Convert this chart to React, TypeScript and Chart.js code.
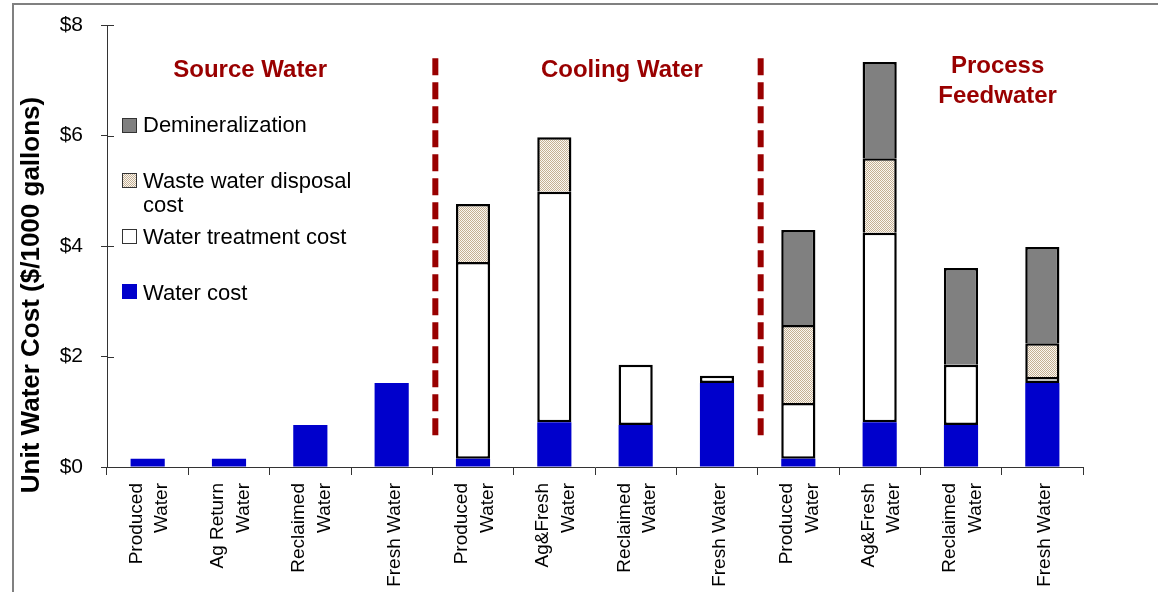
import React, { useEffect, useRef } from "react";
import { Chart, registerables } from "chart.js";

Chart.register(...registerables);

const categories: string[][] = [
  ["Produced", "Water"],
  ["Ag Return", "Water"],
  ["Reclaimed", "Water"],
  ["Fresh Water"],
  ["Produced", "Water"],
  ["Ag&Fresh", "Water"],
  ["Reclaimed", "Water"],
  ["Fresh Water"],
  ["Produced", "Water"],
  ["Ag&Fresh", "Water"],
  ["Reclaimed", "Water"],
  ["Fresh Water"],
];

const waterCost = [0.15, 0.15, 0.76, 1.52, 0.15, 0.81, 0.76, 1.52, 0.15, 0.81, 0.76, 1.52];
const treatmentCost = [null, null, null, null, 3.56, 4.17, 1.09, 0.13, 1.01, 3.43, 1.09, 0.11];
const wasteDisposalCost = [null, null, null, null, 1.05, 0.99, null, null, 1.41, 1.35, null, 0.61];
const demineralization = [null, null, null, null, null, null, null, null, 1.72, 1.74, 1.75, 1.74];

const yTicks = [0, 2, 4, 6, 8];
const groupTitles = [
  { lines: ["Source Water"], at: 1.26 },
  { lines: ["Cooling Water"], at: 5.83 },
  { lines: ["Process", "Feedwater"], at: 10.45 },
];
const dividers = [3.5, 7.5];
const legendItems = ["Demineralization", "Waste water disposal|cost", "Water treatment cost", "Water cost"];

const FONT = "'Liberation Sans', Arial, Helvetica, sans-serif";
const DARK_RED = "#990000";
const BLUE = "#0000CC";
const GRAY = "#808080";

function makePattern(): CanvasPattern | string {
  const c = document.createElement("canvas");
  c.width = 2;
  c.height = 2;
  const g = c.getContext("2d");
  if (!g) return "#e0d4c4";
  g.fillStyle = "#faf7f2";
  g.fillRect(0, 0, 2, 2);
  g.fillStyle = "#c4af92";
  g.fillRect(0, 0, 1, 1);
  g.fillRect(1, 1, 1, 1);
  const p = g.createPattern(c, "repeat");
  return p || "#e0d4c4";
}

export default function App() {
  const ref = useRef<HTMLCanvasElement | null>(null);

  useEffect(() => {
    if (!ref.current) return;
    const pattern = makePattern();

    const overlay = {
      id: "overlay",
      afterDatasetsDraw(chart: any) {
        const ctx = chart.ctx;
        const x = chart.scales.x;
        const y = chart.scales.y;
        ctx.save();
        ctx.strokeStyle = DARK_RED;
        ctx.lineWidth = 6;
        ctx.setLineDash([17, 7]);
        dividers.forEach((d) => {
          const px = x.getPixelForValue(d) + 3;
          ctx.beginPath();
          ctx.moveTo(px, y.getPixelForValue(7.4));
          ctx.lineTo(px, y.getPixelForValue(0.5));
          ctx.stroke();
        });
        ctx.restore();
      },
      afterDraw(chart: any) {
        const ctx = chart.ctx;
        const x = chart.scales.x;
        const y = chart.scales.y;
        const area = chart.chartArea;
        ctx.save();
        // frame
        ctx.fillStyle = GRAY;
        ctx.fillRect(12, 3, chart.width - 12, 2);
        ctx.fillRect(12, 3, 2, chart.height - 3);

        // inner y ticks
        ctx.strokeStyle = "#333333";
        ctx.lineWidth = 1;
        yTicks.forEach((t) => {
          const py = Math.round(y.getPixelForValue(t)) + 0.5;
          ctx.beginPath();
          ctx.moveTo(area.left, py);
          ctx.lineTo(area.left + 7, py);
          ctx.stroke();
        });

        // x labels
        ctx.fillStyle = "#000000";
        ctx.font = `19px ${FONT}`;
        ctx.textAlign = "right";
        ctx.textBaseline = "alphabetic";
        categories.forEach((lines, i) => {
          const cx = x.getPixelForValue(i);
          ctx.save();
          ctx.translate(cx, area.bottom + 16);
          ctx.rotate(-Math.PI / 2);
          if (lines.length === 1) {
            ctx.fillText(lines[0], 0, 8);
          } else {
            ctx.fillText(lines[0], 0, -6);
            ctx.fillText(lines[1], 0, 19.5);
          }
          ctx.restore();
        });

        // y title
        ctx.save();
        ctx.font = `bold 26px ${FONT}`;
        ctx.textAlign = "center";
        ctx.textBaseline = "middle";
        ctx.translate(32, 295);
        ctx.rotate(-Math.PI / 2);
        ctx.fillText("Unit Water Cost ($/1000 gallons)", 0, 0);
        ctx.restore();

        // group titles
        ctx.fillStyle = DARK_RED;
        ctx.font = `bold 24px ${FONT}`;
        ctx.textAlign = "center";
        groupTitles.forEach((g) => {
          const cx = x.getPixelForValue(g.at);
          if (g.lines.length === 1) {
            ctx.fillText(g.lines[0], cx, 77);
          } else {
            ctx.fillText(g.lines[0], cx, 73);
            ctx.fillText(g.lines[1], cx, 103);
          }
        });

        // legend
        const fills: any[] = [GRAY, pattern, "#ffffff", BLUE];
        const boxTops = [118, 173, 229, 284];
        const baselines = [132, 188, 244, 300];
        ctx.font = `22px ${FONT}`;
        ctx.textAlign = "left";
        legendItems.forEach((label, i) => {
          ctx.fillStyle = fills[i];
          ctx.fillRect(122, boxTops[i], 15, 15);
          if (i < 3) {
            ctx.strokeStyle = "#333333";
            ctx.lineWidth = 1;
            ctx.strokeRect(122.5, boxTops[i] + 0.5, 14, 14);
          }
          ctx.fillStyle = "#000000";
          const parts = label.split("|");
          parts.forEach((p, j) => {
            ctx.fillText(p, 143, baselines[i] + j * 23.5);
          });
        });
        ctx.restore();
      },
    };

    const chart = new Chart(ref.current, {
      type: "bar",
      data: {
        labels: categories.map((c) => c.join(" ")),
        datasets: [
          {
            label: "Water cost",
            data: waterCost,
            backgroundColor: BLUE,
            borderWidth: 0,
          },
          {
            label: "Water treatment cost",
            data: treatmentCost as any,
            backgroundColor: "#ffffff",
            borderColor: "#000000",
            borderWidth: 2.5,
            borderSkipped: false,
          },
          {
            label: "Waste water disposal cost",
            data: wasteDisposalCost as any,
            backgroundColor: pattern as any,
            borderColor: "#000000",
            borderWidth: 2.5,
            borderSkipped: "bottom",
          },
          {
            label: "Demineralization",
            data: demineralization as any,
            backgroundColor: GRAY,
            borderColor: "#000000",
            borderWidth: 2.5,
            borderSkipped: "bottom",
          },
        ],
      },
      options: {
        responsive: false,
        animation: false,
        layout: { padding: { left: 0, right: 75, top: 25, bottom: 0 } },
        plugins: {
          legend: { display: false },
          tooltip: { enabled: false },
          title: { display: false },
        },
        datasets: {
          bar: { categoryPercentage: 1, barPercentage: 0.42 },
        },
        scales: {
          x: {
            stacked: true,
            grid: {
              display: true,
              drawOnChartArea: false,
              drawTicks: true,
              tickLength: 8,
              color: "#333333",
            },
            border: { display: true, color: "#333333", width: 1 },
            ticks: { display: false },
            afterFit: (s: any) => {
              s.height = 125;
              s.paddingLeft = 0;
              s.paddingRight = 0;
            },
          },
          y: {
            stacked: true,
            min: 0,
            max: 8,
            grid: {
              display: true,
              drawOnChartArea: false,
              drawTicks: true,
              tickLength: 6,
              color: "#333333",
            },
            border: { display: true, color: "#333333", width: 1 },
            ticks: {
              stepSize: 2,
              padding: 18,
              color: "#000000",
              font: { family: FONT, size: 21 },
              callback: (v: any) => "$" + v,
            },
            afterFit: (s: any) => {
              s.width = 107;
              s.paddingTop = 0;
              s.paddingBottom = 0;
            },
          },
        },
      },
      plugins: [overlay],
    });

    return () => chart.destroy();
  }, []);

  return (
    <div style={{ position: "fixed", left: 0, top: 0, width: 1158, height: 592, background: "#ffffff" }}>
      <canvas ref={ref} width={1158} height={592} style={{ display: "block" }} />
    </div>
  );
}
